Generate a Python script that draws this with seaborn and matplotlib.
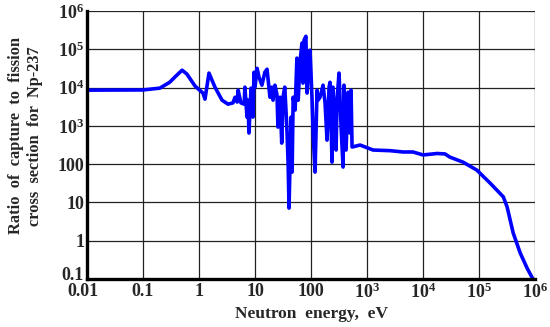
import matplotlib
matplotlib.use("Agg")
import matplotlib.pyplot as plt
import matplotlib.transforms as mtransforms
import seaborn as sns
import pandas as pd

# neutron energy (eV) and capture/fission ratio
energy = [0.01, 0.1, 0.2, 0.30, 0.40, 0.50, 0.61, 0.85, 1.18, 1.28, 1.51, 1.93, 2.58, 3.3, 4.05,
          4.4, 4.8, 5.0, 5.6, 6.4, 6.6, 7.2, 7.5, 7.8, 8.5, 9.2, 9.6, 10, 10.9, 11.8,
          13.3, 15, 16.4, 18.5, 20, 21, 22.7, 24.7, 25.7, 28, 30, 31.6, 34, 37, 39,
          40.5, 44, 46, 48, 52, 56, 59, 64, 69, 72, 75, 81, 85, 92, 96,
          104, 109, 118, 128, 133, 145, 164, 178, 193, 210, 218, 237, 247, 280, 291,
          316, 344, 373, 388, 422, 458, 497, 518, 540, 750, 1280, 2570, 4400, 6600, 1e4,
          17800, 24600, 30000, 51500, 91000, 157000, 270000, 316000, 405000, 540000, 720000, 910000]
ratio = [8600, 8700, 9700, 13800, 21000, 28600, 22600, 11000, 7200, 5000, 24000, 10300, 4700, 3700, 4000,
         5600, 4200, 8600, 4000, 3700, 10300, 1700, 4700, 650, 9700, 1700, 25300, 10300, 32000, 18800,
         11600, 25300, 30300, 5600, 10300, 4700, 11600, 6400, 930, 5600, 355, 5600, 10300, 930, 107,
         7.1, 1700, 62, 5600, 2600, 59000, 4700, 52000, 146000, 13100, 174000, 220000, 7200, 46000, 95000,
         5600, 650, 62, 8600, 4700, 5600, 11600, 4000, 425, 10300, 13800, 113, 10300, 234, 4700,
         24000, 930, 84, 11600, 234, 7600, 650, 8600, 280, 316, 234, 225, 208, 208, 174,
         190, 185, 153, 113, 70, 32, 14, 7.6, 1.6, 0.48, 0.19, 0.1]

x_ticks = [1e-2, 1e-1, 1, 10, 100, 1e3, 1e4, 1e5, 1e6]
x_labels = ["0.01", "0.1", "1", "10", "100", r"$10^3$", r"$10^4$", r"$10^5$", r"$10^6$"]
y_ticks = [0.1, 1, 10, 100, 1e3, 1e4, 1e5, 1e6]
y_labels = ["0.1", "1", "10", "100", r"$10^3$", r"$10^4$", r"$10^5$", r"$10^6$"]

sns.set_style("white")
plt.rcParams["font.family"] = ["Liberation Serif", "DejaVu Serif"]
plt.rcParams["font.weight"] = "bold"
plt.rcParams["mathtext.fontset"] = "custom"
plt.rcParams["mathtext.rm"] = "Liberation Serif:bold"
plt.rcParams["mathtext.it"] = "Liberation Serif:bold"
plt.rcParams["mathtext.bf"] = "Liberation Serif:bold"
plt.rcParams["mathtext.default"] = "rm"

df = pd.DataFrame({"energy": energy, "ratio": ratio})

fig = plt.figure(figsize=(5.5, 3.27), dpi=100)
ax = fig.add_axes([0.158, 0.147, 0.815, 0.819])
sns.lineplot(data=df, x="energy", y="ratio", ax=ax, color="#0000ff", linewidth=2.6,
             sort=False, estimator=None)

ax.set_xscale("log")
ax.set_yscale("log")
ax.set_xlim(1e-2, 1e6)
ax.set_ylim(0.1, 1e6)
ax.set_xticks(x_ticks)
ax.set_xticklabels(x_labels)
ax.set_yticks(y_ticks)
ax.set_yticklabels(y_labels)
ax.minorticks_off()
ax.tick_params(length=0, labelsize=13)
ax.tick_params(axis="x", pad=3)
ax.tick_params(axis="y", pad=2)
ax.grid(True, color="#222222", linewidth=0.9)

# nudge the corner labels so "0.1" and "0.01" just clear each other
lab = ax.get_yticklabels()[0]
lab.set_transform(lab.get_transform() + mtransforms.ScaledTranslation(0, 4 / 72, fig.dpi_scale_trans))
lab = ax.get_xticklabels()[0]
lab.set_transform(lab.get_transform() + mtransforms.ScaledTranslation(-3 / 72, 0, fig.dpi_scale_trans))

for s in ["top", "right"]:
    ax.spines[s].set_visible(False)
for s in ["left", "bottom"]:
    ax.spines[s].set_color("black")
    ax.spines[s].set_linewidth(2.4)

ax.set_xlabel("Neutron  energy,  eV", fontsize=12.5, fontweight="bold")
ax.xaxis.set_label_coords(0.5, -0.1)
ax.xaxis.label.set_va("top")
ax.set_ylabel("Ratio  of  capture  to  fission\ncross  section  for  Np-237",
              fontsize=11.8, fontweight="bold", linespacing=1.25)
ax.yaxis.set_label_coords(-0.138, 0.534)
ax.yaxis.label.set_va("center")

fig.savefig("out.png", dpi=100)
